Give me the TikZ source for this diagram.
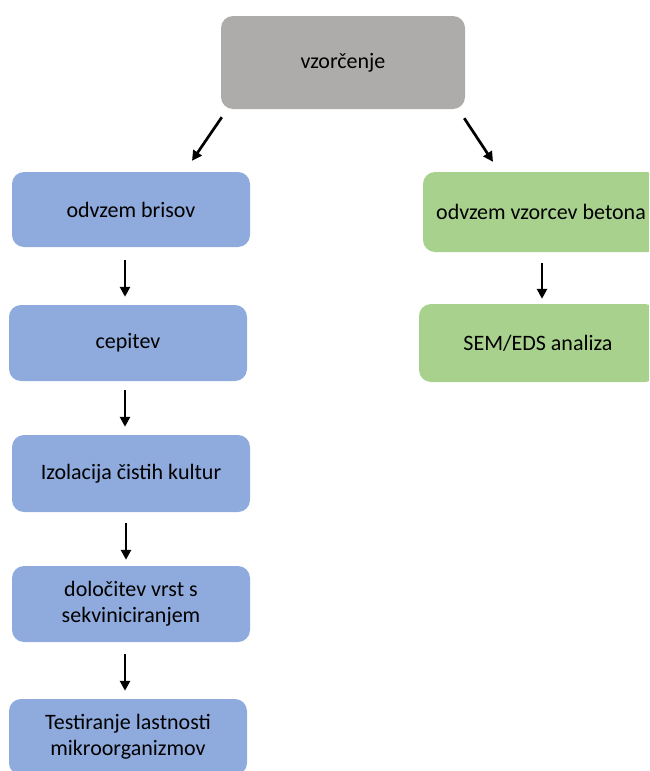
\documentclass[tikz,border=0pt]{standalone}
\usepackage{fontspec}
\setmainfont{Carlito}
\usetikzlibrary{arrows.meta}
\definecolor{boxgray}{HTML}{AEABAB}
\definecolor{boxblue}{HTML}{8FAADC}
\definecolor{boxgreen}{HTML}{A9D18E}
\begin{document}
\begin{tikzpicture}[x=1pt,y=-1pt,>={Triangle[length=10pt,width=10pt]},
  box/.style={rounded corners=12pt,inner sep=0pt,align=center,
    font=\fontsize{22}{26}\selectfont,text=black},
  flow/.style={->,line width=2.7pt,black}]
  \useasboundingbox (0,0) rectangle (649,771);
  \clip (0,0) rectangle (649,771);
  % top
  \node[box,fill=boxgray,minimum width=244pt,minimum height=93pt] (vzorcenje) at (343,62.5) {vzorčenje};
  % left column
  \node[box,fill=boxblue,minimum width=238pt,minimum height=75pt] (brisi) at (131,209.5) {odvzem brisov};
  \node[box,fill=boxblue,minimum width=238pt,minimum height=76pt] (cepitev) at (128,343) {cepitev};
  \node[box,fill=boxblue,minimum width=238pt,minimum height=77pt] (izolacija) at (131,473.5) {Izolacija čistih kultur};
  \node[box,fill=boxblue,minimum width=238pt,minimum height=76pt] (dolocitev) at (131,604) {določitev vrst s\\sekviniciranjem};
  \node[box,fill=boxblue,minimum width=238pt,minimum height=76pt] (testiranje) at (128,737) {Testiranje lastnosti\\mikroorganizmov};
  % right column
  \node[box,fill=boxgreen,minimum width=236pt,minimum height=80pt] (beton) at (541,212) {odvzem vzorcev betona};
  \node[box,fill=boxgreen,minimum width=238pt,minimum height=78pt] (sem) at (538,343) {SEM/EDS analiza};
  % arrows
  \draw[flow] ([shift={(1,8)}]vzorcenje.south west) -- ([shift={(61,-11)}]brisi.north);
  \draw[flow] ([shift={(-1,9)}]vzorcenje.south east) -- ([shift={(-48,-10)}]beton.north);
  \draw[flow,shorten <=13pt,shorten >=8pt] ([xshift=-6pt]brisi.south) -- ([xshift=-3pt]cepitev.north);
  \draw[flow,shorten <=9pt,shorten >=8pt] ([xshift=-3pt]cepitev.south) -- ([xshift=-6pt]izolacija.north);
  \draw[flow,shorten <=11pt,shorten >=6pt] ([xshift=-5pt]izolacija.south) -- ([xshift=-5pt]dolocitev.north);
  \draw[flow,shorten <=12pt,shorten >=8pt] ([xshift=-6pt]dolocitev.south) -- ([xshift=-3pt]testiranje.north);
  \draw[flow,shorten <=11pt,shorten >=5pt] ([xshift=1pt]beton.south) -- ([xshift=4pt]sem.north);
\end{tikzpicture}
\end{document}
